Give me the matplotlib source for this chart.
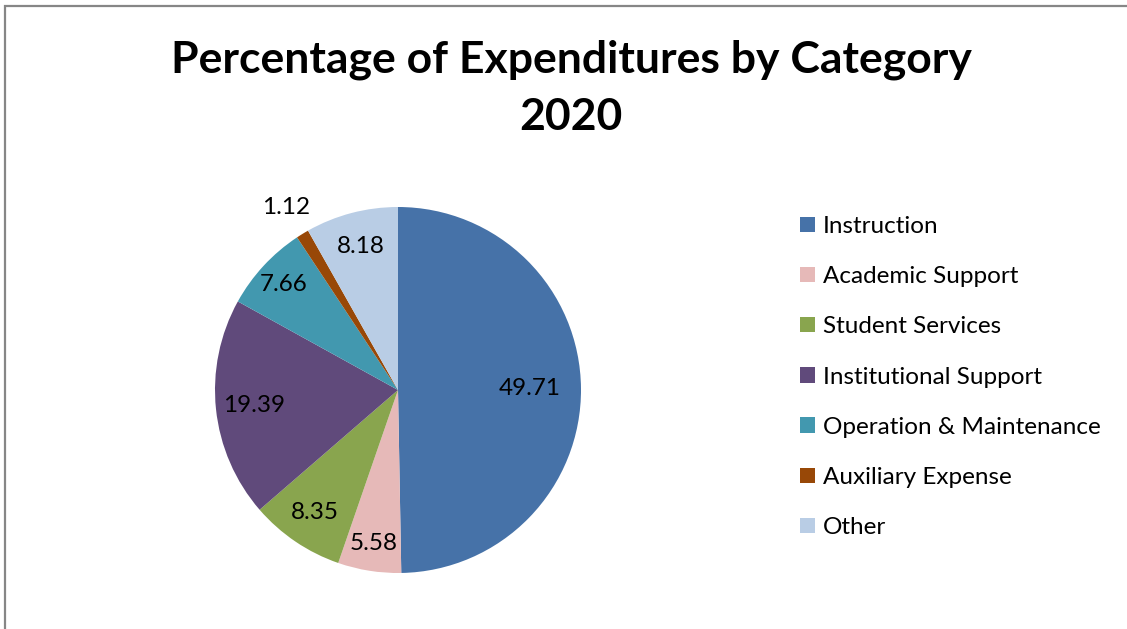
import matplotlib.pyplot as plt
from matplotlib.patches import Rectangle, Patch
import numpy as np

# data
categories = ['Instruction', 'Academic Support', 'Student Services',
              'Institutional Support', 'Operation & Maintenance',
              'Auxiliary Expense', 'Other']
values = [49.71, 5.58, 8.35, 19.39, 7.66, 1.12, 8.18]
colors = ['#4672A8', '#E6B9B8', '#89A54E', '#604A7B', '#4298AF', '#984807', '#B9CDE5']
title_lines = ['Percentage of Expenditures by Category', '2020']

# radial placement of value labels (fraction of radius)
label_dist = [0.72, 0.85, 0.81, 0.79, 0.85, 1.17, 0.81]

FONT = 'Lato'
W, H = 1127, 629
fig = plt.figure(figsize=(W / 100, H / 100), dpi=100)

# outer chart border (left and top visible)
fig.patches.append(Rectangle((4.5 / W, -0.05), 1.2, 1 - 5.5 / H + 0.05,
                             transform=fig.transFigure, fill=False,
                             edgecolor='#868686', linewidth=1.6))

cx, cy, r = 398, 390, 183
ax = fig.add_axes([(cx - r) / W, (H - cy - r) / H, 2 * r / W, 2 * r / H])
wedges, _ = ax.pie(values, colors=colors, startangle=90, counterclock=False,
                   radius=1, wedgeprops=dict(linewidth=0))
ax.set_xlim(-1, 1)
ax.set_ylim(-1, 1)
ax.set_aspect('equal')
ax.axis('off')

for w, v, d in zip(wedges, values, label_dist):
    ang = np.deg2rad((w.theta1 + w.theta2) / 2)
    ax.text(d * np.cos(ang), d * np.sin(ang), f'{v:.2f}', ha='center', va='center',
            fontsize=17.5, family=FONT, color='black', clip_on=False)

for line, ypx in zip(title_lines, [60, 117]):
    fig.text(571 / W, 1 - ypx / H, line, ha='center', va='center',
             fontsize=32, fontweight='bold', family=FONT)

handles = [Patch(facecolor=c, edgecolor='none') for c in colors]
fig.legend(handles, categories, loc='center left', bbox_to_anchor=(800 / W, (H - 377) / H),
           frameon=False, prop={'family': FONT, 'size': 17.5}, handlelength=0.6,
           handleheight=0.6, handletextpad=0.35, labelspacing=1.2,
           borderpad=0, borderaxespad=0)

fig.savefig('out.png', dpi=100)
